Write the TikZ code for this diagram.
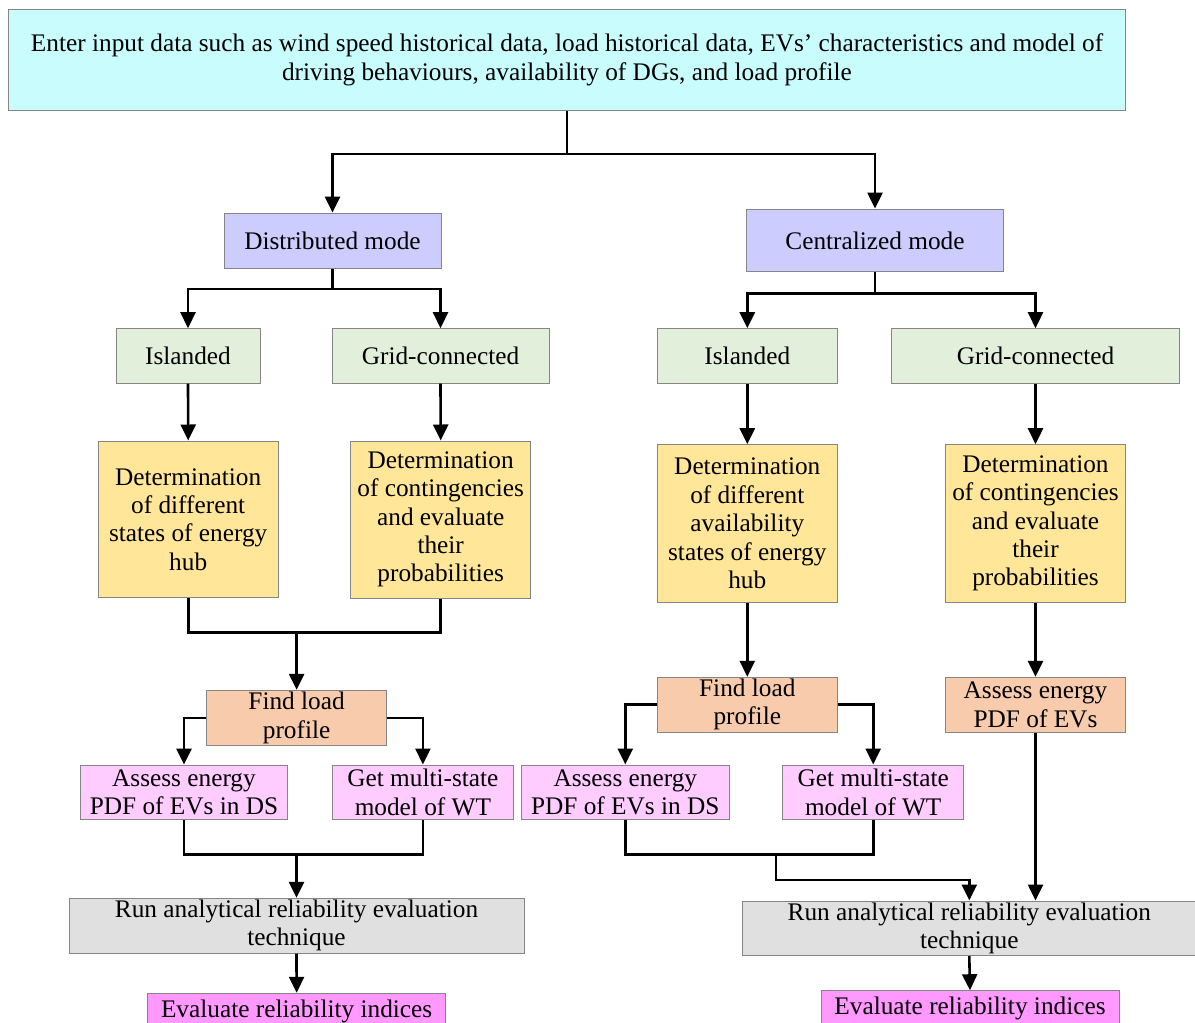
\documentclass[tikz,border=0pt]{standalone}
\usepackage{fontspec}
\setmainfont{Liberation Serif}
\usetikzlibrary{arrows.meta}
\definecolor{cTop}{HTML}{C9FCFC}
\definecolor{cMode}{HTML}{CCCCFF}
\definecolor{cGreen}{HTML}{E2EFDA}
\definecolor{cDet}{HTML}{FFE699}
\definecolor{cPeach}{HTML}{F8CBAD}
\definecolor{cPink}{HTML}{FFCCFF}
\definecolor{cGrey}{HTML}{E0E0E0}
\definecolor{cMag}{HTML}{FF99FF}
\definecolor{cBorder}{HTML}{858585}
\tikzset{
  box/.style={draw=cBorder, line width=1pt, inner sep=0pt, align=center,
    font=\fontsize{25.3}{28.4}\selectfont},
  conn/.style={line width=2.6pt, black},
  arr/.style={conn, -{Triangle[width=15pt,length=16pt]}}
}
\begin{document}
\begin{tikzpicture}[x=1pt,y=-1pt]
\clip (0,0) rectangle (1195,1023);
\fill[white] (0,0) rectangle (1195,1023);

% nodes
\node[box, fill=cTop, minimum width=1117.2, minimum height=101.7] (top) at (567,59.85)
  {Enter input data such as wind speed historical data, load historical data, EVs’ characteristics and model of\\driving behaviours, availability of DGs, and load profile};
\node[box, fill=cMode, minimum width=217, minimum height=55] (dist) at (332.5,240.5) {Distributed mode};
\node[box, fill=cMode, minimum width=257, minimum height=62.7] (cent) at (875,240.35) {Centralized mode};

\node[box, fill=cGreen, minimum width=144, minimum height=54.3] (islL) at (188,355.85) {Islanded};
\node[box, fill=cGreen, minimum width=217, minimum height=54.3] (gridL) at (440.5,355.85) {Grid-connected};
\node[box, fill=cGreen, minimum width=180.6, minimum height=54.3] (islR) at (747.3,355.85) {Islanded};
\node[box, fill=cGreen, minimum width=288, minimum height=54.3] (gridR) at (1035.5,355.85) {Grid-connected};

\node[box, fill=cDet, minimum width=179.6, minimum height=156.7] (detLa) at (188.2,519.35)
  {Determination\\of different\\states of energy\\hub};
\node[box, fill=cDet, minimum width=180.2, minimum height=157] (detLb) at (440.7,519.5)
  {Determination\\of contingencies\\and evaluate\\their\\probabilities};
\node[box, fill=cDet, minimum width=180.6, minimum height=157.3] (detRa) at (747.3,523.35)
  {Determination\\of different\\availability\\states of energy\\hub};
\node[box, fill=cDet, minimum width=180.2, minimum height=157.3] (detRb) at (1035.5,523.35)
  {Determination\\of contingencies\\and evaluate\\their\\probabilities};

\node[box, fill=cPeach, minimum width=179.8, minimum height=55] (findL) at (296.6,717.8) {Find load\\profile};
\node[box, fill=cPeach, minimum width=180, minimum height=54.7] (findR) at (747.3,704.65) {Find load\\profile};
\node[box, fill=cPeach, minimum width=180, minimum height=54.7] (assessP) at (1035.5,704.65) {Assess energy\\PDF of EVs};

\node[box, fill=cPink, minimum width=207.8, minimum height=54.7] (assessL) at (184,792.35) {Assess energy\\PDF of EVs in DS};
\node[box, fill=cPink, minimum width=180.6, minimum height=54.7] (getL) at (422.9,792.35) {Get multi-state\\model of WT};
\node[box, fill=cPink, minimum width=208, minimum height=54.7] (assessR) at (625.3,792.35) {Assess energy\\PDF of EVs in DS};
\node[box, fill=cPink, minimum width=181, minimum height=54.7] (getR) at (873.2,792.35) {Get multi-state\\model of WT};

\node[box, fill=cGrey, minimum width=455, minimum height=54.7] (runL) at (296.5,925.65) {Run analytical reliability evaluation\\technique};
\node[box, fill=cGrey, minimum width=453.5, minimum height=54.7] (runR) at (969.3,928.35) {Run analytical reliability evaluation\\technique};

\node[box, fill=cMag, minimum width=297.8, minimum height=36.8] (evalL) at (296.6,1011.7) {Evaluate reliability indices};
\node[box, fill=cMag, minimum width=298, minimum height=36] (evalR) at (970,1008.7) {Evaluate reliability indices};

% junction points
\coordinate (t1) at (567,154);
\coordinate (jD) at (332.5,289);
\coordinate (jC) at (875,293.3);
\coordinate (jL) at (296.6,632.3);
\coordinate (jL2) at (296.5,854.7);
\coordinate (jR2) at (776,854.7);
\coordinate (kR) at (776,880);

% connectors
\draw[conn] (top.south) -- (t1);
\draw[arr] (t1) -| (dist.north);
\draw[arr] (t1) -| (cent.north);

\draw[conn] (dist.south) -- (jD);
\draw[arr] (jD) -| (islL.north);
\draw[arr] (jD) -| (gridL.north);
\draw[conn] (cent.south) -- (jC);
\draw[arr] (jC) -| (islR.north);
\draw[arr] (jC) -| (gridR.north);

\draw[arr] (islL.south) -- (detLa.north);
\draw[arr] (gridL.south) -- (detLb.north);
\draw[arr] (islR.south) -- (detRa.north);
\draw[arr] (gridR.south) -- (detRb.north);

\draw[conn] (detLa.south) |- (jL) -| (detLb.south);
\draw[arr] (jL) -- (findL.north);
\draw[arr] (detRa.south) -- (findR.north);
\draw[arr] (detRb.south) -- (assessP.north);

\draw[arr] (findL.west) -| (assessL.north);
\draw[arr] (findL.east) -| (getL.north);
\draw[arr] (findR.west) -| (assessR.north);
\draw[arr] (findR.east) -| (getR.north);

\draw[conn] (assessL.south) |- (jL2) -| (getL.south);
\draw[arr] (jL2) -- (runL.north);
\draw[conn] (assessR.south) |- (jR2) -| (getR.south);
\draw[arr] (jR2) -- (kR) -| (runR.north);
\draw[arr] (assessP.south) -- (assessP.south |- runR.north);

\draw[arr] (runL.south) -- (evalL.north);
\draw[arr] (runR.south) -- (evalR.north);
\end{tikzpicture}
\end{document}
